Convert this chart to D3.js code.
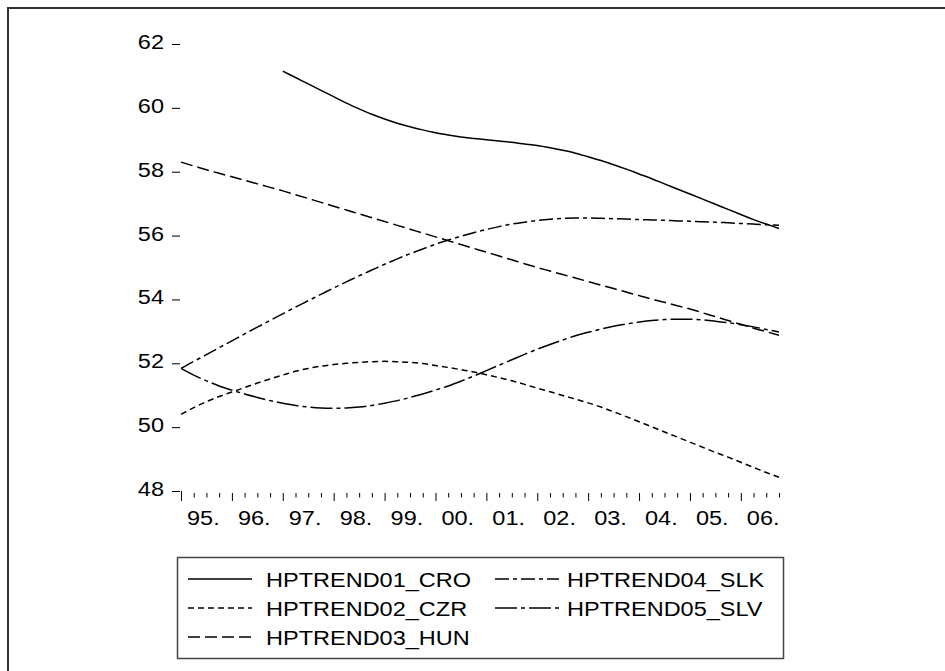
<!DOCTYPE html>
<html>
<head>
<meta charset="utf-8">
<script src="https://cdn.jsdelivr.net/npm/d3@7"></script>
<style>
  body { margin: 0; background: #fff; }
  svg { display: block; }
  text { font-family: "Liberation Sans", Arial, sans-serif; font-size: 21px; fill: #000; }
</style>
</head>
<body>
<svg id="chart" width="945" height="671"></svg>
<script>
// quarterly data, 1995Q1 .. 2006Q4 (48 quarters)
const yearLabels = ["95.", "96.", "97.", "98.", "99.", "00.", "01.", "02.", "03.", "04.", "05.", "06."];
const yTicks = [48, 50, 52, 54, 56, 58, 60, 62];

// CRO starts 1997Q1 (quarter index 8)
const croStart = 8;
const cro = [61.15, 60.95, 60.75, 60.55, 60.35, 60.15, 59.97, 59.80,
  59.65, 59.52, 59.41, 59.31, 59.22, 59.15, 59.09, 59.04,
  59.00, 58.96, 58.92, 58.87, 58.82, 58.75, 58.67, 58.58,
  58.47, 58.35, 58.22, 58.08, 57.93, 57.78, 57.62, 57.46,
  57.30, 57.14, 56.98, 56.82, 56.66, 56.50, 56.36, 56.22];
const czr = [50.40, 50.61, 50.80, 50.96, 51.10, 51.24, 51.38, 51.51,
  51.63, 51.75, 51.84, 51.91, 51.96, 52.00, 52.03, 52.05,
  52.06, 52.05, 52.03, 51.99, 51.93, 51.87, 51.80, 51.73,
  51.64, 51.55, 51.45, 51.34, 51.22, 51.11, 50.99, 50.88,
  50.76, 50.63, 50.48, 50.33, 50.17, 50.01, 49.85, 49.69,
  49.53, 49.37, 49.21, 49.06, 48.90, 48.74, 48.58, 48.43];
const hun = [58.30, 58.18, 58.06, 57.95, 57.84, 57.73, 57.62, 57.51,
  57.40, 57.28, 57.16, 57.04, 56.92, 56.80, 56.68, 56.56,
  56.44, 56.32, 56.20, 56.08, 55.96, 55.84, 55.72, 55.60,
  55.48, 55.36, 55.24, 55.12, 55.00, 54.89, 54.78, 54.67,
  54.56, 54.45, 54.34, 54.23, 54.12, 54.01, 53.91, 53.80,
  53.70, 53.58, 53.46, 53.34, 53.22, 53.10, 52.99, 52.88];
const slk = [51.84, 52.06, 52.27, 52.49, 52.70, 52.92, 53.13, 53.34,
  53.55, 53.76, 53.96, 54.16, 54.36, 54.55, 54.74, 54.92,
  55.10, 55.27, 55.43, 55.58, 55.73, 55.86, 55.98, 56.09,
  56.19, 56.28, 56.36, 56.42, 56.47, 56.51, 56.54, 56.55,
  56.55, 56.54, 56.53, 56.52, 56.50, 56.49, 56.48, 56.46,
  56.45, 56.43, 56.42, 56.40, 56.38, 56.36, 56.34, 56.32];
const slv = [51.84, 51.63, 51.45, 51.29, 51.16, 51.04, 50.93, 50.83,
  50.75, 50.68, 50.63, 50.60, 50.59, 50.60, 50.63, 50.68,
  50.75, 50.83, 50.93, 51.04, 51.16, 51.29, 51.44, 51.60,
  51.77, 51.94, 52.11, 52.28, 52.44, 52.59, 52.73, 52.86,
  52.97, 53.07, 53.16, 53.23, 53.29, 53.34, 53.37, 53.38,
  53.38, 53.36, 53.32, 53.27, 53.21, 53.14, 53.06, 52.98];

const seriesNames = ["HPTREND01_CRO", "HPTREND02_CZR", "HPTREND03_HUN", "HPTREND04_SLK", "HPTREND05_SLV"];

const series = [
  { name: seriesNames[0], start: croStart, values: cro, dash: null },
  { name: seriesNames[1], start: 0, values: czr, dash: "6,4" },
  { name: seriesNames[2], start: 0, values: hun, dash: "12,5" },
  { name: seriesNames[3], start: 0, values: slk, dash: "14,4,4,4" },
  { name: seriesNames[4], start: 0, values: slv, dash: "22,4,4,4" }
];

const svg = d3.select("#chart");
const SX = 1.12; // text in the original is slightly stretched horizontally

// outer frame (top + left edges)
svg.append("path")
  .attr("d", "M8,671 L8,8 L945,8")
  .attr("fill", "none")
  .attr("stroke", "#333")
  .attr("stroke-width", 2);

const x = d3.scaleLinear().domain([0, 47]).range([181, 779]);
const y = d3.scaleLinear().domain([48, 62]).range([491, 44]);

// y axis: ticks only, no spine
const yAxis = svg.append("g")
  .attr("transform", "translate(180,0)")
  .call(d3.axisLeft(y).tickValues(yTicks).tickSize(8).tickSizeOuter(0).tickFormat(d3.format("d")));
yAxis.select(".domain").remove();
yAxis.selectAll(".tick line").attr("stroke", "#000").attr("stroke-width", 1);
yAxis.selectAll(".tick text")
  .attr("x", null).attr("dy", null)
  .attr("text-anchor", "end")
  .attr("transform", `translate(-16,4.5) scale(${SX},1)`)
  .style("font-size", "21px")
  .style("font-family", "'Liberation Sans', Arial, sans-serif");

// x axis: a tick per quarter, longer at each year start
const xAxis = svg.append("g")
  .attr("transform", "translate(0,493)")
  .call(d3.axisBottom(x).tickValues(d3.range(48)).tickSize(8).tickSizeOuter(0).tickFormat(""));
xAxis.select(".domain").remove();
xAxis.selectAll(".tick line")
  .attr("stroke", "#000")
  .attr("stroke-width", 1)
  .attr("y1", d => d === 0 ? -2 : 0)
  .attr("y2", d => d % 4 === 0 ? 8 : 4.5);

svg.append("g")
  .selectAll("text")
  .data(yearLabels)
  .join("text")
  .attr("transform", (d, i) => `translate(${x(i * 4) + 6},525) scale(${SX},1)`)
  .text(d => d);

// lines
const line = d3.line()
  .x(d => x(d.q))
  .y(d => y(d.v))
  .curve(d3.curveMonotoneX);

svg.append("g")
  .selectAll("path")
  .data(series)
  .join("path")
  .attr("d", s => line(s.values.map((v, i) => ({ q: s.start + i, v }))))
  .attr("fill", "none")
  .attr("stroke", "#000")
  .attr("stroke-width", 1.5)
  .attr("stroke-dasharray", s => s.dash);

// legend
const legend = svg.append("g");
legend.append("rect")
  .attr("x", 177.5).attr("y", 557.5)
  .attr("width", 606).attr("height", 101)
  .attr("fill", "#fff")
  .attr("stroke", "#444")
  .attr("stroke-width", 1.5);

const cols = [{ lx: 188, tx: 266 }, { lx: 495, tx: 567 }];
const rowY = [579, 608, 637];

const items = legend.selectAll("g.item")
  .data(series)
  .join("g")
  .attr("class", "item")
  .attr("transform", (d, i) => {
    const c = cols[i < 3 ? 0 : 1];
    return `translate(${c.lx},${rowY[i < 3 ? i : i - 3]})`;
  });

items.append("line")
  .attr("x1", 0).attr("x2", 64)
  .attr("y1", 0).attr("y2", 0)
  .attr("stroke", "#000")
  .attr("stroke-width", 1.5)
  .attr("stroke-dasharray", d => d.dash);

items.append("text")
  .attr("transform", (d, i) => {
    const c = cols[i < 3 ? 0 : 1];
    return `translate(${c.tx - c.lx},7.5) scale(${SX},1)`;
  })
  .text(d => d.name);
</script>
</body>
</html>
